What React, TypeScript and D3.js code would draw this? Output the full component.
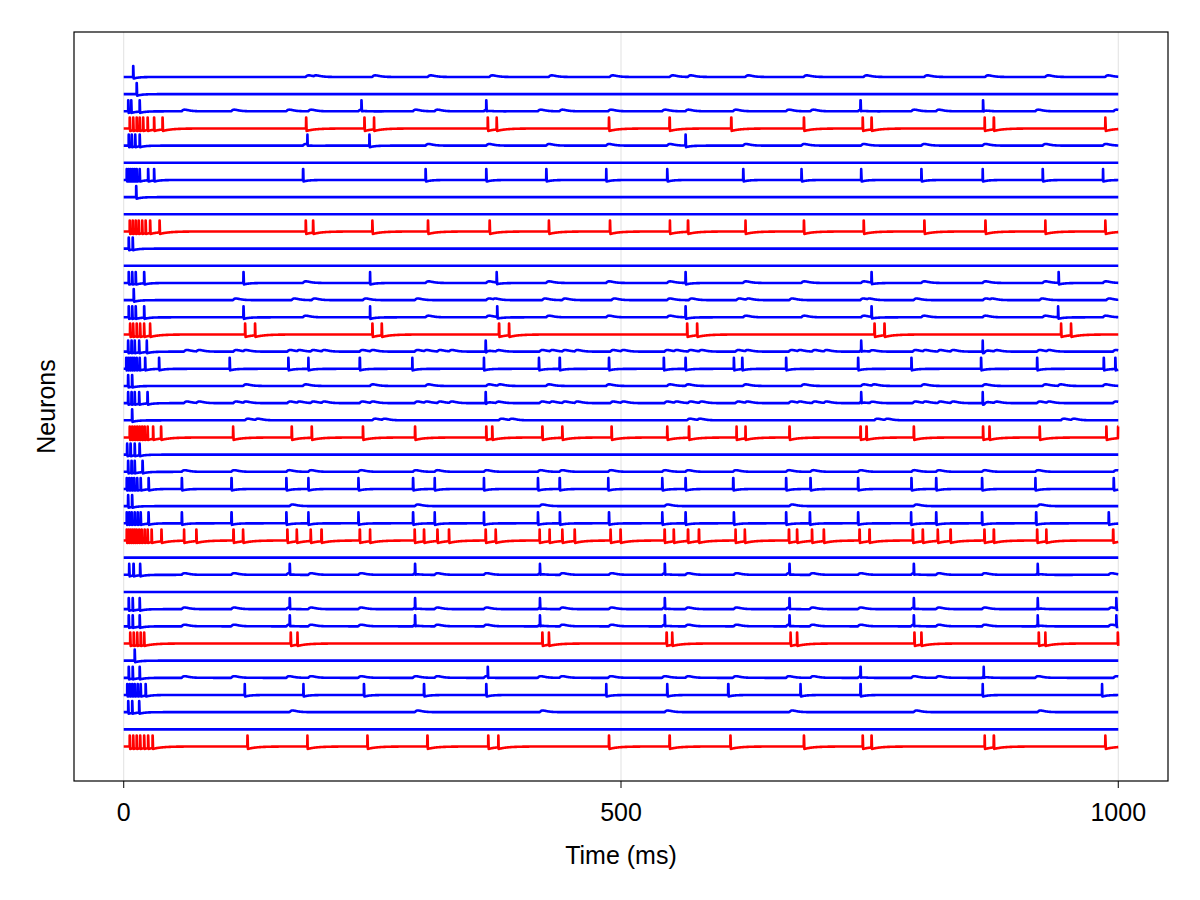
import { useMemo } from "react";
import * as d3 from "d3";

const WIDTH = 1200;
const HEIGHT = 900;
const FRAME = { left: 74, right: 1168, top: 32, bottom: 781 };

const X_TICKS = [0, 500, 1000];
const X_LABEL = "Time (ms)";
const Y_LABEL = "Neurons";
const T_END = 1000;

// rows drawn in red
const INHIBITORY = [3, 9, 15, 21, 27, 33, 39];

// spike times (ms) per neuron, top row first
const SPIKES: number[][] = [
  [9.5],
  [13],
  [4.5, 7.5, 16, 239, 364.5, 740.7, 864],
  [6, 9.5, 13, 16, 19.5, 24, 30.5, 39, 183.3, 242, 251.6, 366, 374.9, 487.8, 548.7, 610.7, 683.8, 743, 751.8, 865.6, 874.7, 986.9],
  [5, 8, 11.5, 16, 184.6, 247, 564.8],
  [],
  [3, 5, 7, 9, 11, 13, 16, 24.5, 30.5, 180.2, 303.5, 364.5, 424.8, 485.1, 546.4, 622.8, 681.4, 741.4, 802, 863.6, 924, 984.6],
  [12.5],
  [],
  [6, 9, 12, 15, 18.5, 22, 26.5, 36, 183, 190.3, 249.9, 305.8, 367.8, 427.4, 488.8, 549.1, 567.2, 625.1, 683.8, 744, 805, 866.3, 926.6, 986.9],
  [5, 9],
  [],
  [5, 8.5, 12, 20.5, 120.3, 247.6, 374.9, 564.8, 751.8, 940],
  [10],
  [5, 8.5, 12, 20.5, 120.3, 247.6, 375.5, 564.8, 751.8, 939.4],
  [6.3, 9.4, 13, 16.4, 20.4, 26.4, 122, 132, 250, 259.3, 377.2, 387.3, 566.5, 576.5, 754.8, 764.8, 942.4, 952.4],
  [4.3, 7.7, 11, 15.4, 23.1, 363.8, 741.4, 863.6],
  [2.5, 4.5, 6.5, 8.5, 10.5, 13, 16, 21.5, 35.5, 106.5, 165.5, 185.6, 237.2, 290.1, 362.1, 417.4, 438.2, 487.8, 543, 564.8, 613.4, 621.8, 666, 738.3, 792, 862, 918.3, 985.3, 997],
  [4.3, 8.3],
  [4.3, 7.7, 11, 15.4, 23.8, 363.8, 741.4, 863.6],
  [8.3],
  [6, 8.5, 11, 13.5, 16, 18.5, 21, 24, 29.5, 37.5, 109.9, 168.8, 189, 240.5, 292.8, 364.5, 370.5, 420.8, 440.9, 490.5, 546.4, 568.2, 616.1, 625.1, 669.3, 740.7, 746.7, 794.3, 864, 870.4, 920.9, 988, 999.7],
  [3.3, 6.7, 11, 15.8],
  [4.3, 7.7, 11, 18.8],
  [3, 5.5, 8, 10.5, 13.5, 17, 25, 58.3, 108.2, 163.5, 185.6, 235.9, 290.8, 312.6, 362.1, 416.4, 438.2, 487.1, 541.4, 564.8, 612.7, 666, 690.5, 738.3, 792, 816.8, 863, 916.6, 995.3],
  [4.3, 8.3],
  [3, 5.5, 8, 11, 14, 17, 24.8, 58.3, 108.2, 163.5, 185.6, 235.9, 290.8, 312.6, 362.1, 416.4, 438.5, 487.8, 541.4, 564.8, 613.4, 666, 689.8, 738.3, 791.6, 816.8, 863, 917.3, 990.3],
  [3, 5, 7, 9, 11, 13, 15.5, 18, 21, 24, 28, 37.8, 60.6, 73, 110.2, 119.9, 164.5, 173.9, 187.9, 198.7, 237.2, 247.6, 292.5, 301.8, 315.3, 327, 363.8, 373.9, 418.1, 428.1, 440.9, 453.3, 489.4, 499.5, 543.7, 553, 567.2, 578.2, 615.1, 624.4, 668.7, 677, 692, 703.8, 739.7, 749.7, 793.3, 803.3, 818.4, 831.2, 865.3, 874.7, 918.3, 927.6, 994.7],
  [],
  [5.4, 9.7, 16.4, 166.8, 292.8, 418.4, 544, 669.3, 794.3, 918.9],
  [],
  [5, 9, 16, 166.8, 292.8, 418.4, 544, 669.3, 794.3, 918.9, 998],
  [5, 9, 16, 166.8, 292.8, 418.4, 544, 669.3, 794.3, 918.9, 998],
  [6.5, 10, 13.5, 17, 20.5, 167.8, 174.6, 420.8, 427.4, 545.7, 551.4, 670.4, 677, 795, 802, 920, 926.6, 999.5],
  [11],
  [5, 9, 16, 366, 740.7, 864.6],
  [3.5, 6, 8.5, 11, 14, 17, 22, 121.6, 180.6, 241.5, 301.8, 364.5, 485.1, 546.4, 607.7, 680.4, 740.7, 863.6, 983.6],
  [4.5, 8.5, 15.5],
  [],
  [6, 9.5, 13, 16.5, 20.5, 24.5, 29, 124.3, 184.6, 245, 305.2, 366.5, 376.6, 487.8, 548.7, 610, 683.8, 743, 751.8, 865.6, 874.7, 986.9],
];

// which rows make the small bumps on a row (row -> source rows)
const INPUTS: Record<number, number[]> = {
  0: [9],
  2: [24],
  4: [6],
  12: [6],
  13: [21],
  14: [6],
  16: [27],
  18: [6, 14],
  19: [27],
  20: [15],
  23: [24],
  25: [29],
  29: [26],
  31: [26],
  32: [26],
  35: [24],
  37: [29],
};

const SPIKE_ROWS = 0.64; // spike height in row spacings
const PSP_AMP = 0.15;
const PSP_TAU = 3;

function membrane(row: number): [number, number][] {
  const spikes = SPIKES[row];
  const inhib = INHIBITORY.includes(row);
  const dip = inhib ? 0.22 : 0.14;
  const tau = inhib ? 9 : 5;
  const sources = (INPUTS[row] ?? []).flatMap((r) => SPIKES[r]).filter((t) => t > 40);

  const ts = d3.range(0, T_END + 0.001, 0.5);
  spikes.forEach((s) => ts.push(s - 0.05, s + 0.1, s + 0.6));
  const times = ts.filter((t) => t >= 0 && t <= T_END).sort((a, b) => a - b);

  return times.map((t) => {
    let last = -Infinity;
    for (const s of spikes) {
      if (s <= t) last = s;
      else break;
    }
    let v = 0;
    if (last > -Infinity) {
      const dt = t - last;
      v = dt < 0.35 ? 1 : -dip * Math.exp(-Math.max(0, dt - 0.6) / tau);
    }
    if (v < 1) {
      let psp = 0;
      for (const s of sources) {
        const dt = t - s;
        if (dt > 0 && dt < 40) {
          psp = Math.max(psp, PSP_AMP * (dt / PSP_TAU) * Math.exp(1 - dt / PSP_TAU));
        }
      }
      v += psp;
    }
    return [t, v];
  });
}

export default function App() {
  const xScale = d3.scaleLinear().domain([-50, 1050]).range([FRAME.left, FRAME.right]);
  const yScale = d3
    .scaleLinear()
    .domain([-2.62, SPIKES.length - 1 + 2.01])
    .range([FRAME.top, FRAME.bottom]);

  const traces = useMemo(() => SPIKES.map((_, i) => membrane(i)), []);

  const paths = traces.map((pts, row) => {
    const line = d3
      .line<[number, number]>()
      .x((d) => xScale(d[0]))
      .y((d) => yScale(row - d[1] * SPIKE_ROWS));
    return line(pts) ?? "";
  });

  const font = "'Liberation Sans', Arial, sans-serif";

  return (
    <svg
      width={WIDTH}
      height={HEIGHT}
      style={{ position: "absolute", left: 0, top: 0, background: "#fff" }}
    >
      <rect x={0} y={0} width={WIDTH} height={HEIGHT} fill="#fff" />
      {X_TICKS.map((t) => (
        <line
          key={`g${t}`}
          x1={xScale(t)}
          x2={xScale(t)}
          y1={FRAME.top}
          y2={FRAME.bottom}
          stroke="rgba(0,0,0,0.12)"
          strokeWidth={1}
        />
      ))}
      {paths.map((d, i) => (
        <path
          key={i}
          d={d}
          fill="none"
          stroke={INHIBITORY.includes(i) ? "#ff0000" : "#0000ff"}
          strokeWidth={2.6}
          strokeLinejoin="round"
        />
      ))}
      <rect
        x={FRAME.left}
        y={FRAME.top}
        width={FRAME.right - FRAME.left}
        height={FRAME.bottom - FRAME.top}
        fill="none"
        stroke="#000"
        strokeWidth={1.2}
      />
      {X_TICKS.map((t) => (
        <g key={`t${t}`}>
          <line
            x1={xScale(t)}
            x2={xScale(t)}
            y1={FRAME.bottom}
            y2={FRAME.bottom + 7}
            stroke="#000"
            strokeWidth={1}
          />
          <text
            x={xScale(t)}
            y={821}
            textAnchor="middle"
            fontFamily={font}
            fontSize={25}
            fill="#000"
          >
            {t}
          </text>
        </g>
      ))}
      <text
        x={(FRAME.left + FRAME.right) / 2}
        y={864}
        textAnchor="middle"
        fontFamily={font}
        fontSize={25}
        fill="#000"
      >
        {X_LABEL}
      </text>
      <text
        transform={`translate(55,${(FRAME.top + FRAME.bottom) / 2}) rotate(-90)`}
        textAnchor="middle"
        fontFamily={font}
        fontSize={25}
        fill="#000"
      >
        {Y_LABEL}
      </text>
    </svg>
  );
}
